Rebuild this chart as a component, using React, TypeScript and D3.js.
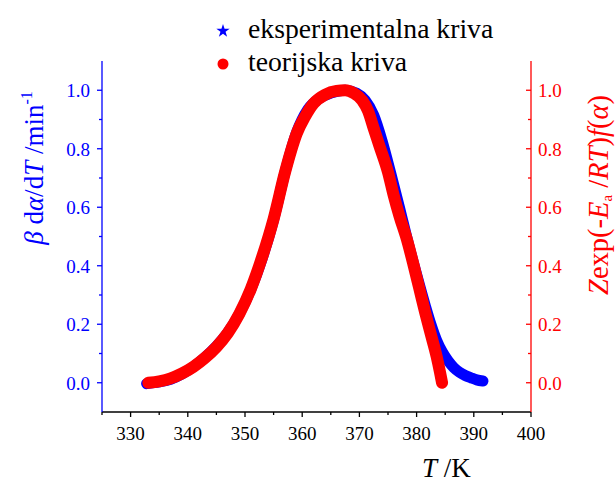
import React from "react";
import * as d3 from "d3";

// experimental curve (blue stars)
const expT = [332.8, 335, 337, 339, 341, 343, 345, 347, 349, 351, 353, 355, 357, 359, 361, 363, 365, 367.5, 369.5, 371, 372.5, 374, 375.5, 377, 378.5, 380, 381.5, 382.5, 383.5, 384.5, 385.5, 386.5, 387.5, 388.5, 389.5, 390.5, 391.6];
const expV = [-0.003, 0.003, 0.012, 0.03, 0.055, 0.087, 0.125, 0.172, 0.235, 0.318, 0.425, 0.557, 0.72, 0.855, 0.935, 0.972, 0.99, 1.0, 0.99, 0.966, 0.915, 0.825, 0.715, 0.6, 0.48, 0.37, 0.265, 0.2, 0.145, 0.105, 0.075, 0.052, 0.036, 0.025, 0.017, 0.01, 0.006];

// theoretical curve (red circles)
const teoT = [333.1, 335, 337, 339, 341, 343, 345, 347, 349, 351, 353, 355, 357, 358, 359, 360.5, 362, 364, 366, 367.5, 369, 370.5, 371.5, 372.5, 373.5, 375, 376, 377, 378.3, 379.5, 380.5, 381.5, 382.5, 383.5, 384.1, 384.45];
const teoV = [0.0, 0.005, 0.015, 0.032, 0.055, 0.085, 0.122, 0.17, 0.235, 0.32, 0.43, 0.56, 0.72, 0.79, 0.85, 0.91, 0.955, 0.985, 0.998, 1.0, 0.99, 0.965, 0.93, 0.87, 0.81, 0.72, 0.64, 0.57, 0.49, 0.4, 0.32, 0.24, 0.165, 0.09, 0.035, 0.0];

const xTicks = [330, 340, 350, 360, 370, 380, 390, 400];
const xMinor = [325, 335, 345, 355, 365, 375, 385, 395];
const yTicks = [0.0, 0.2, 0.4, 0.6, 0.8, 1.0];
const yMinor = [0.1, 0.3, 0.5, 0.7, 0.9];
const legendLabels = ["eksperimentalna kriva", "teorijska kriva"];

const BLUE = "#0000FF";
const RED = "#FF0000";
const FONT = "Liberation Serif";

export default function App() {
  const W = 615, H = 484;
  const x = d3.scaleLinear().domain([325, 400]).range([102, 531]);
  const y = d3.scaleLinear().domain([-0.1, 1.1]).range([412, 61]);
  const [x0, x1] = x.range();
  const [yb, yt] = y.range();

  const line = d3.line<[number, number]>()
    .x((d) => x(d[0]))
    .y((d) => y(d[1]))
    .curve(d3.curveMonotoneX);

  const expPts: [number, number][] = expT.map((t, i) => [t, expV[i]]);
  const teoPts: [number, number][] = teoT.map((t, i) => [t, teoV[i]]);

  const star = d3.symbol().type(d3.symbolStar).size(55)();

  return (
    <svg width={W} height={H} style={{ position: "absolute", left: 0, top: 0 }} fontFamily={FONT}>
      <rect width={W} height={H} fill="white" />
      {/* data */}
      <path d={line(expPts) || ""} fill="none" stroke={BLUE} strokeWidth={11} strokeLinecap="round" strokeLinejoin="round" />
      <path d={line(teoPts) || ""} fill="none" stroke={RED} strokeWidth={12} strokeLinecap="round" strokeLinejoin="round" />

      {/* bottom axis */}
      <line x1={x0} x2={x1} y1={yb} y2={yb} stroke="black" strokeWidth={1.3} />
      {xTicks.map((t) => (
        <g key={"xt" + t}>
          <line x1={x(t)} x2={x(t)} y1={yb} y2={yb + 5} stroke="black" strokeWidth={1.3} />
          <text x={x(t)} y={440} textAnchor="middle" fontSize={19} fill="black">{String(t)}</text>
        </g>
      ))}
      {xMinor.map((t) => (
        <line key={"xm" + t} x1={x(t)} x2={x(t)} y1={yb} y2={yb + 3} stroke="black" strokeWidth={1.3} />
      ))}

      {/* left axis */}
      <line x1={x0} x2={x0} y1={yt} y2={yb} stroke={BLUE} strokeWidth={1.3} />
      {yTicks.map((v) => (
        <g key={"yl" + v}>
          <line x1={x0 - 5} x2={x0} y1={y(v)} y2={y(v)} stroke={BLUE} strokeWidth={1.3} />
          <text x={90} y={y(v) + 7} textAnchor="end" fontSize={19} fill={BLUE}>{v.toFixed(1)}</text>
        </g>
      ))}
      {yMinor.map((v) => (
        <line key={"ylm" + v} x1={x0 - 3} x2={x0} y1={y(v)} y2={y(v)} stroke={BLUE} strokeWidth={1.3} />
      ))}

      {/* right axis */}
      <line x1={x1} x2={x1} y1={yt} y2={yb} stroke={RED} strokeWidth={1.3} />
      {yTicks.map((v) => (
        <g key={"yr" + v}>
          <line x1={x1 - 5} x2={x1} y1={y(v)} y2={y(v)} stroke={RED} strokeWidth={1.3} />
          <text x={538} y={y(v) + 7} textAnchor="start" fontSize={19} fill={RED}>{v.toFixed(1)}</text>
        </g>
      ))}
      {yMinor.map((v) => (
        <line key={"yrm" + v} x1={x1 - 3} x2={x1} y1={y(v)} y2={y(v)} stroke={RED} strokeWidth={1.3} />
      ))}

      {/* axis titles */}
      <text x={422} y={477} fontSize={27} fill="black">
        <tspan fontStyle="italic">T</tspan>
        <tspan> /K</tspan>
      </text>
      <text transform="translate(43,168) rotate(-90)" textAnchor="middle" fontSize={27} fill={BLUE}>
        <tspan fontStyle="italic">β</tspan>
        <tspan> d</tspan>
        <tspan fontStyle="italic">α</tspan>
        <tspan>/d</tspan>
        <tspan fontStyle="italic">T</tspan>
        <tspan> /min</tspan>
        <tspan fontSize={16} dy="-11">-1</tspan>
      </text>
      <text transform="translate(608,195) rotate(-90)" textAnchor="middle" fontSize={28.5} fill={RED}>
        <tspan fontStyle="italic">Z</tspan>
        <tspan>exp(-</tspan>
        <tspan fontStyle="italic">E</tspan>
        <tspan fontSize={15} dy="4">a</tspan>
        <tspan dy="-4"> /</tspan>
        <tspan fontStyle="italic">RT</tspan>
        <tspan>)</tspan>
        <tspan fontStyle="italic">f</tspan>
        <tspan>(</tspan>
        <tspan fontStyle="italic">α</tspan>
        <tspan>)</tspan>
      </text>

      {/* legend */}
      <path d={star || ""} transform="translate(223,31)" fill={BLUE} />
      <text x={248} y={38} fontSize={27.7} fill="black">{legendLabels[0]}</text>
      <circle cx={223} cy={64} r={5.5} fill={RED} />
      <text x={248} y={71} fontSize={27.7} fill="black">{legendLabels[1]}</text>
    </svg>
  );
}
